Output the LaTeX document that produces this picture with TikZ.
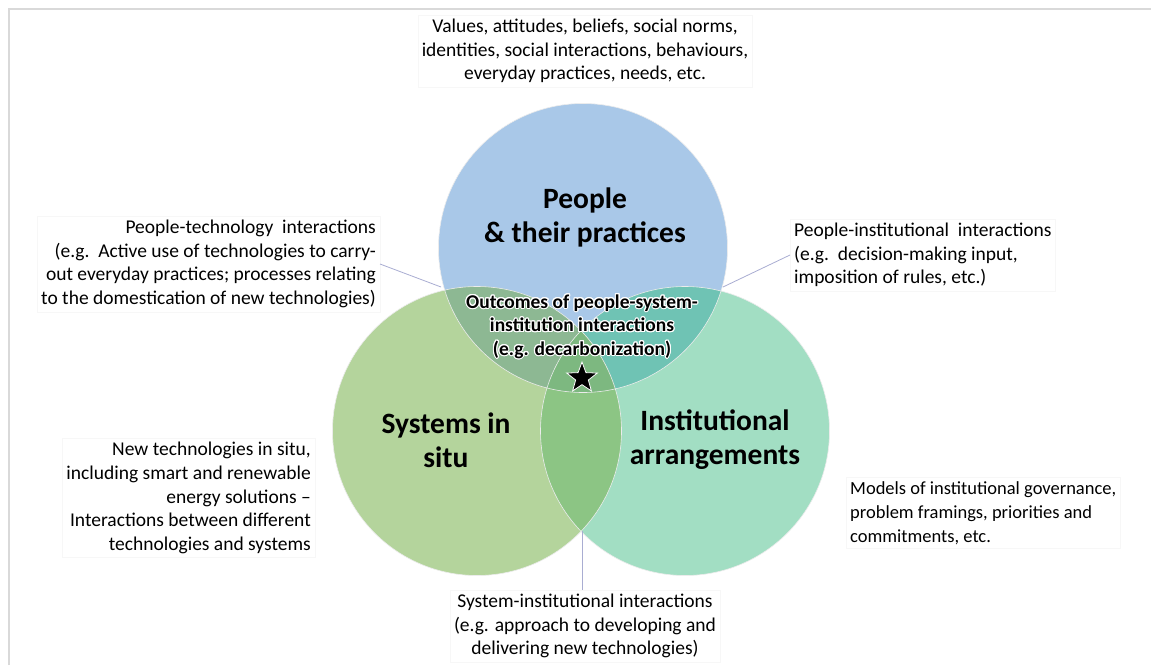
\documentclass[tikz,border=0pt]{standalone}
\usepackage{fontspec}
\setmainfont{Carlito}
\usepackage{contour}
\contourlength{1.1pt}
\usetikzlibrary{shapes.geometric}

\definecolor{peopleblue}{HTML}{A9C8E8}
\definecolor{systemgreen}{HTML}{B4D49C}
\definecolor{instmint}{HTML}{A2DEC3}
\definecolor{psgreen}{HTML}{8DB893}
\definecolor{piteal}{HTML}{6FC3B4}
\definecolor{sigreen}{HTML}{8CC584}
\definecolor{allgreen}{HTML}{7DB880}
\definecolor{leadercol}{HTML}{A9ADD2}
\definecolor{framegray}{HTML}{D9D9D9}
\newcommand{\vennr}{144.5}

\begin{document}
\begin{tikzpicture}[
    x=1pt, y=-1pt,
    note/.style={font=\fontsize{19.5}{23.6}\selectfont, inner sep=4pt, draw=black!3},
    circtitle/.style={font=\fontsize{29.5}{34}\selectfont\bfseries, align=center},
    outcome/.style={font=\fontsize{19.5}{23.5}\selectfont\bfseries, align=center},
    leader/.style={draw=leadercol, line width=0.8pt}
  ]
    \useasboundingbox[fill=white] (0,0) rectangle (1151,665);
    \draw[framegray, line width=2pt] (9,665) -- (9,9) -- (1151,9);

    % circle centres
    \coordinate (people) at (583,248);
    \coordinate (systems) at (477,431);
    \coordinate (inst) at (685,431);

    % plain discs
    \fill[peopleblue] (people) circle (\vennr);
    \fill[systemgreen] (systems) circle (\vennr);
    \fill[instmint] (inst) circle (\vennr);

    % overlaps
    \begin{scope}
      \clip (people) circle (\vennr);
      \fill[psgreen] (systems) circle (\vennr);
      \fill[piteal] (inst) circle (\vennr);
    \end{scope}
    \begin{scope}
      \clip (systems) circle (\vennr);
      \fill[sigreen] (inst) circle (\vennr);
    \end{scope}
    \begin{scope}
      \clip (people) circle (\vennr);
      \clip (systems) circle (\vennr);
      \fill[allgreen] (inst) circle (\vennr);
    \end{scope}
    \draw[white!85!gray, line width=0.6pt] (people) circle (\vennr) (systems) circle (\vennr) (inst) circle (\vennr);

    % circle titles
    \node[circtitle] (ptitle) at (585,217) {People\\\& their practices};
    \node[circtitle] (stitle) at (446,440) {Systems in\\situ};
    \node[circtitle] (ititle) at (715,440) {Institutional\\arrangements};

    \node[outcome] (outcome) at (582,327) {\contour{white}{Outcomes of people-system-}\\\contour{white}{institution interactions}\\\contour{white}{(e.g. decarbonization)}};
    \node[star, star points=5, star point ratio=2.4, fill=black, draw=white, line width=0.8pt, minimum size=32pt, inner sep=0pt] (goal) at (582,378) {};

    % notes
    \node[note, align=center] (pnote) at (585,51) {Values, attitudes, beliefs, social norms,\\identities, social interactions, behaviours,\\everyday practices, needs, etc.};
    \node[note, align=right, anchor=east] (ptnote) at (380,264) {People-technology\ \ interactions\\(e.g.\ \ Active use of technologies to carry-\\out everyday practices; processes relating\\to the domestication of new technologies)};
    \node[note, align=left, anchor=west] (pinote) at (790,255) {People-institutional\ \ interactions\\(e.g.\ \ decision-making input,\\imposition of rules, etc.)};
    \node[note, align=right, anchor=east] (snote) at (315,498) {New technologies in situ,\\including smart and renewable\\energy solutions --\\Interactions between different\\technologies and systems};
    \node[note, align=left, anchor=west, font=\fontsize{18.5}{24}\selectfont] (inote) at (846,513) {Models of institutional governance,\\problem framings, priorities and\\commitments, etc.};
    \node[note, align=center] (sinote) at (585,626) {System-institutional interactions\\(e.g. approach to developing and\\delivering new technologies)};

    % leaders
    \coordinate (ptmeet) at (441,287);
    \coordinate (pimeet) at (723,287);
    \coordinate (simeet) at (582,531);
    \draw[leader] (ptnote.east) -- (ptmeet);
    \draw[leader] (pinote.west) -- (pimeet);
    \draw[leader] (simeet) -- (sinote.north -| simeet);
\end{tikzpicture}
\end{document}
